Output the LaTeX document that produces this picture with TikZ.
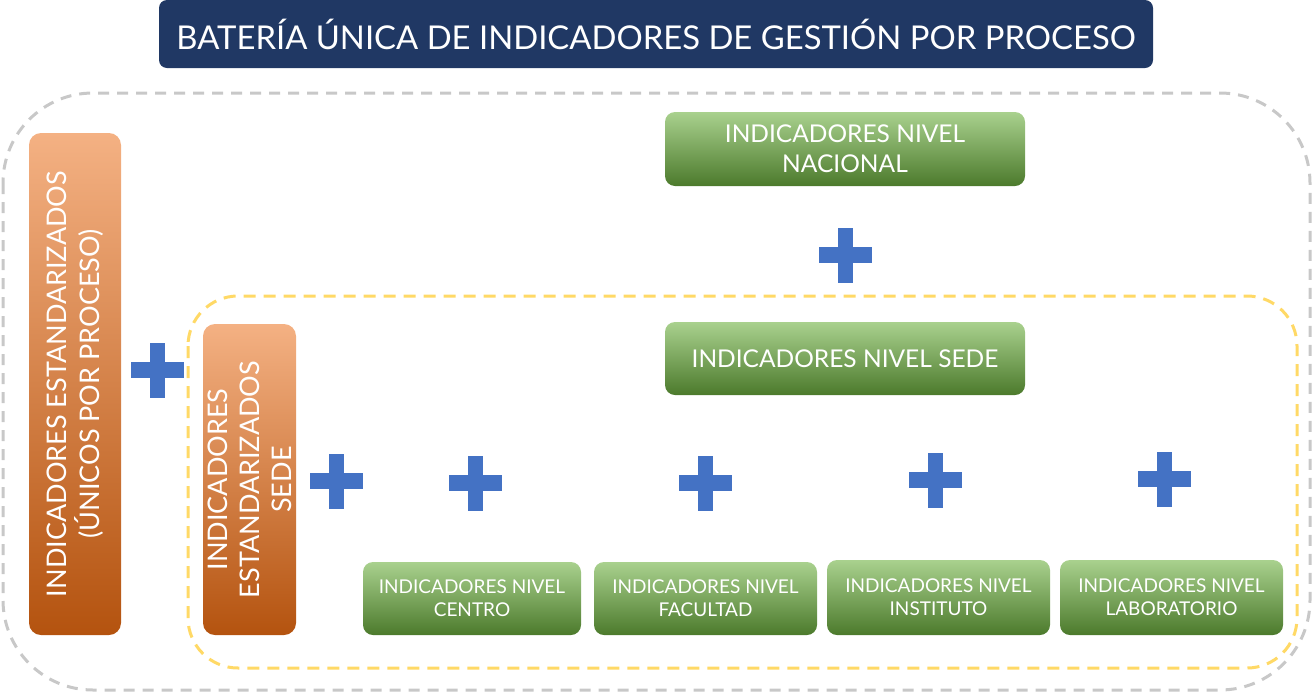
\documentclass[tikz,border=0pt]{standalone}
\usepackage{fontspec}
\setmainfont{Lato}
\definecolor{navy}{HTML}{203864}
\definecolor{gtop}{HTML}{A9D18E}
\definecolor{gmid}{HTML}{70AD47}
\definecolor{gbot}{HTML}{4C7A2C}
\definecolor{otop}{HTML}{F4B183}
\definecolor{omid}{HTML}{ED7D31}
\definecolor{obot}{HTML}{B4530F}
\definecolor{plusblue}{HTML}{4472C4}
\definecolor{framegray}{HTML}{C8C8C8}
\definecolor{frameyellow}{HTML}{FFD966}
\tikzset{
  greenbox/.style={rounded corners=10pt, top color=gtop, middle color=gmid, bottom color=gbot, text=white, align=center, inner sep=0pt},
  orangebox/.style={rounded corners=12pt, top color=otop, middle color=omid, bottom color=obot, inner sep=0pt},
  otext/.style={text=white, align=center, rotate=90, inner sep=0pt},
  bigtxt/.style={font=\fontsize{24.5}{30}\selectfont},
  smalltxt/.style={font=\fontsize{19}{23}\selectfont},
  graydash/.style={draw=framegray, line width=3pt, dash pattern=on 11pt off 8pt, rounded corners=90pt},
  yellowdash/.style={draw=frameyellow, line width=3pt, dash pattern=on 12pt off 8pt, rounded corners=50pt},
  plus/.pic={\fill[plusblue] (-26.5,-8) rectangle (26.5,8); \fill[plusblue] (-7.5,-27.5) rectangle (7.5,27.5);}
}
\begin{document}
\begin{tikzpicture}[x=1pt,y=-1pt]
\useasboundingbox (0,0) rectangle (1312,694);
% frames
\draw[graydash] (3,93) rectangle (1310,690);
\draw[yellowdash] (188,296) rectangle (1297,668);
% title
\node[fill=navy, rounded corners=8pt, minimum width=994pt, minimum height=68pt, inner sep=0pt, text=white, font=\fontsize{32.8}{40}\selectfont] (title) at (656,34) {BATERÍA ÚNICA DE INDICADORES DE GESTIÓN POR PROCESO};
% orange boxes
\node[orangebox, minimum width=92pt, minimum height=502pt] (o1) at (75,384) {};
\node[otext, font=\fontsize{27}{33}\selectfont] (o1t) at (o1.center) {INDICADORES ESTANDARIZADOS\\(ÚNICOS POR PROCESO)};
\node[orangebox, minimum width=93pt, minimum height=311pt] (o2) at (249.5,479.5) {};
\node[otext, font=\fontsize{27}{32}\selectfont] (o2t) at (o2.center) {INDICADORES\\ESTANDARIZADOS\\SEDE};
% green boxes
\node[greenbox, bigtxt, minimum width=360pt, minimum height=74pt] (nac) at (845,149) {INDICADORES NIVEL\\NACIONAL};
\node[greenbox, bigtxt, minimum width=360pt, minimum height=73pt] (sede) at (845,358.5) {INDICADORES NIVEL SEDE};
\node[greenbox, smalltxt, minimum width=218pt, minimum height=73pt] (centro) at (472,598.5) {INDICADORES NIVEL\\CENTRO};
\node[greenbox, smalltxt, minimum width=223pt, minimum height=73pt] (fac) at (705.5,598.5) {INDICADORES NIVEL\\FACULTAD};
\node[greenbox, smalltxt, minimum width=223pt, minimum height=75pt] (inst) at (938.5,597.5) {INDICADORES NIVEL\\INSTITUTO};
\node[greenbox, smalltxt, minimum width=223pt, minimum height=75pt] (lab) at (1171.5,597.5) {INDICADORES NIVEL\\LABORATORIO};
% plus signs
\pic at (157,370) {plus};
\pic at (845,255) {plus};
\pic at (336,481) {plus};
\pic at (475,483) {plus};
\pic at (705,483) {plus};
\pic at (935,480) {plus};
\pic at (1164,479) {plus};
\end{tikzpicture}
\end{document}
